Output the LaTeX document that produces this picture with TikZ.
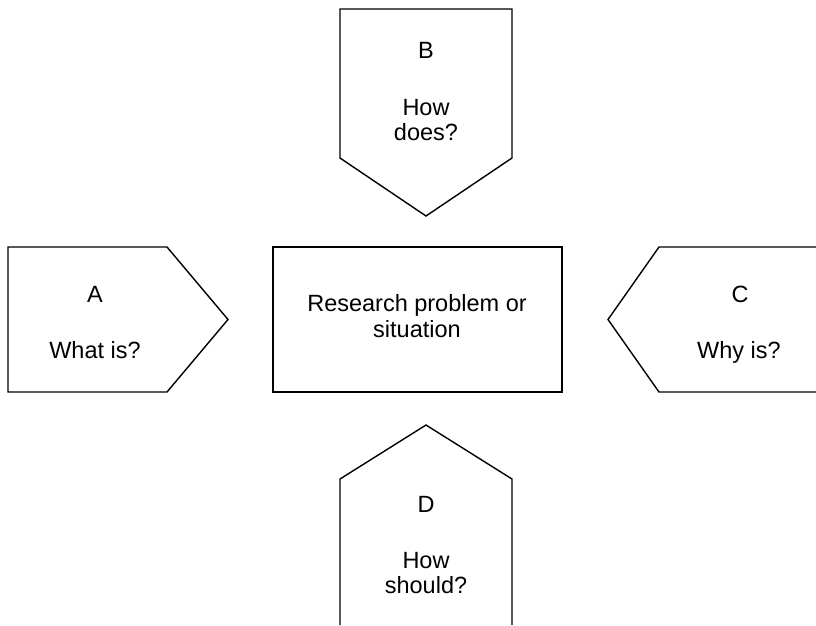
\documentclass[tikz,border=0pt]{standalone}
\usepackage{fontspec}
\setmainfont{Liberation Sans}
\begin{document}
\begin{tikzpicture}[x=1pt,y=-1pt,
  outline/.style={draw=black,line width=1.4pt,line join=miter},
  lbl/.style={anchor=base,inner sep=0pt,font=\fontsize{23.5}{27}\selectfont}]
\useasboundingbox (0,0) rectangle (816,625);
% central box
\node[outline,minimum width=289pt,minimum height=145pt,inner sep=0pt] (core) at (417.5,319.5) {};
\node[lbl] (core1) at (417,311) {Research problem or};
\node[lbl] (core2) at (417,337) {situation};
% B: pointing down from the top
\draw[outline] (340,9) -- (512,9) -- (512,158) -- (426,216) -- (340,158) -- cycle;
\node[lbl] (bL) at (426,58) {B};
\node[lbl] (bQ1) at (426,115) {How};
\node[lbl] (bQ2) at (426,140) {does?};
% A: pointing right from the left
\draw[outline] (8,247) -- (167,247) -- (228,319.5) -- (167,392) -- (8,392) -- cycle;
\node[lbl] (aL) at (95,302) {A};
\node[lbl] (aQ) at (95,358) {What is?};
% C: pointing left, running off the right edge
\draw[outline] (816,247) -- (659,247) -- (608,319.5) -- (659,392) -- (816,392);
\node[lbl] (cL) at (740,302) {C};
\node[lbl] (cQ) at (739,358) {Why is?};
% D: pointing up, running off the bottom edge
\draw[outline] (340,625) -- (340,479) -- (426,425) -- (512,479) -- (512,625);
\node[lbl] (dL) at (426,512) {D};
\node[lbl] (dQ1) at (426,568) {How};
\node[lbl] (dQ2) at (426,593) {should?};
\end{tikzpicture}
\end{document}
